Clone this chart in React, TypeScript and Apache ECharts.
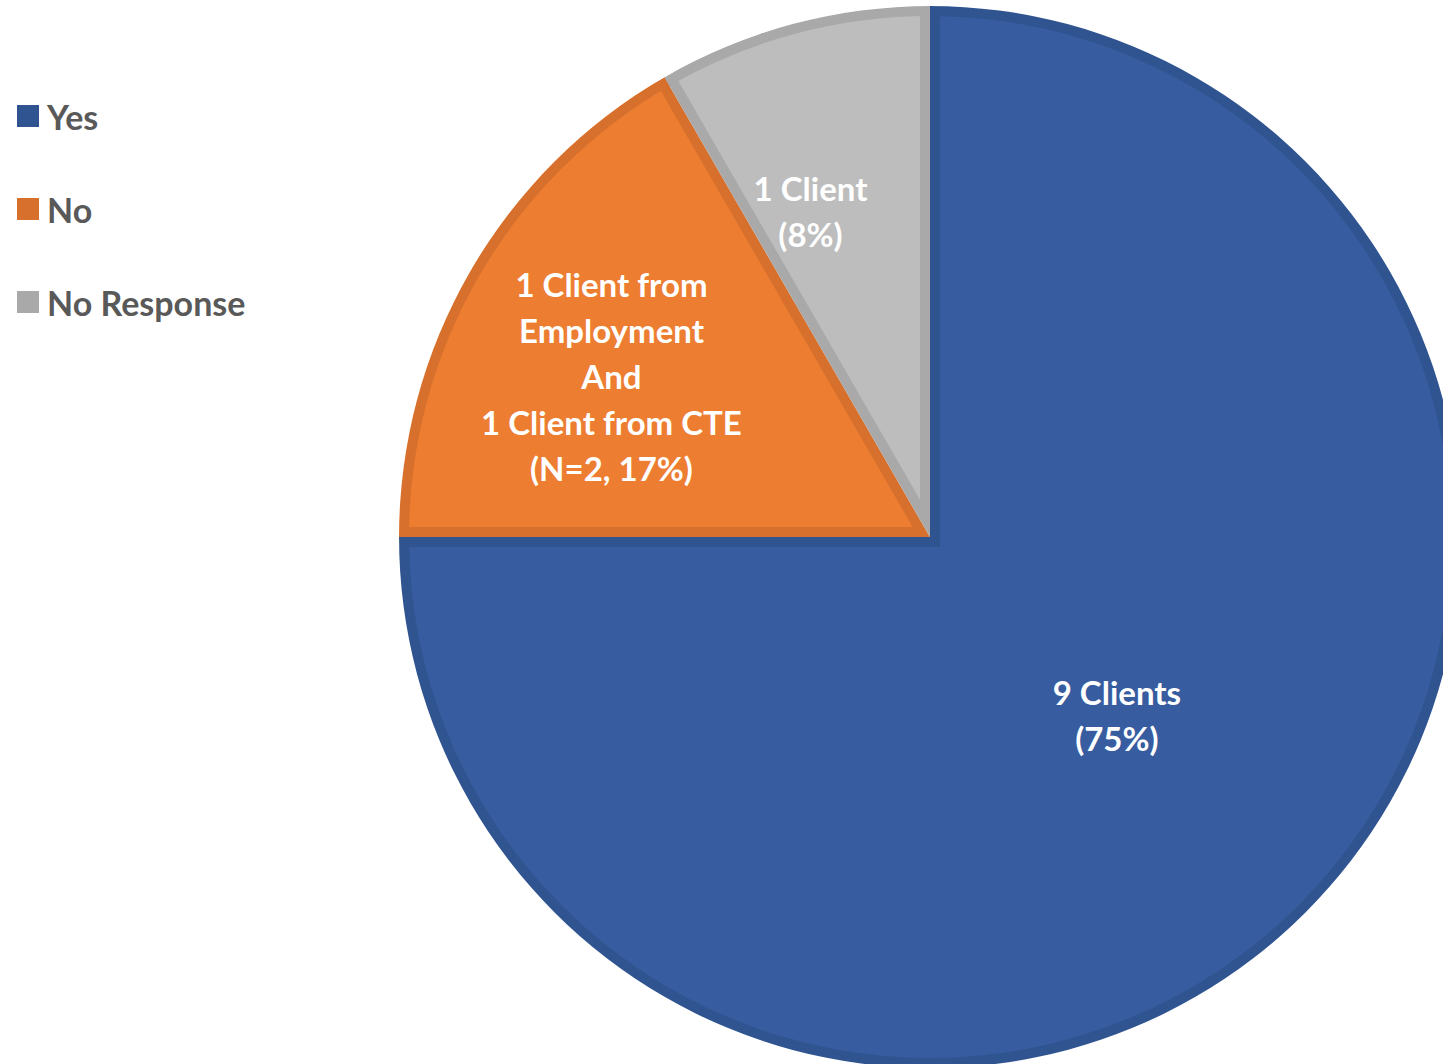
import React, { useEffect, useRef } from "react";
import * as echarts from "echarts";

const categories = ["Yes", "No", "No Response"];
const values = [9, 2, 1];
const labelTexts = [
  "9 Clients\n(75%)",
  "1 Client from\nEmployment\nAnd\n1 Client from CTE\n(N=2, 17%)",
  "1 Client\n(8%)",
];

const fills = ["#375CA0", "#ED7D31", "#BDBDBD"];
const borders = ["#30548F", "#D6702C", "#A9A9A9"];
const labelShift = [
  [-3, -12],
  [-86, -27],
  [-50, -67],
];

const CX = 930;
const CY = 537;
const R = 531;
const BORDER = 10;
const FONT = "Lato, 'Open Sans', 'Noto Sans', sans-serif";

export default function App() {
  const ref = useRef<HTMLDivElement>(null);
  useEffect(() => {
    document.body.style.margin = "0";
    if (!ref.current) return;
    const chart = echarts.init(ref.current, undefined, { renderer: "svg" });
    const total = values.reduce((a, b) => a + b, 0);
    const common = {
      type: "pie",
      silent: true,
      clockwise: true,
      label: { show: false },
      labelLine: { show: false },
      emphasis: { disabled: true },
      itemStyle: { borderWidth: 0 },
    };
    let cum = 0;
    const wedges = values.map((v, i) => {
      const start = 90 - (360 * cum) / total;
      const sweep = (360 * v) / total;
      cum += v;
      const bis = ((start - sweep / 2) * Math.PI) / 180;
      const k = BORDER / Math.sin(((sweep / 2) * Math.PI) / 180);
      return {
        ...common,
        z: 2,
        center: [CX + k * Math.cos(bis), CY - k * Math.sin(bis)],
        radius: R + 45,
        startAngle: ((start % 360) + 360) % 360,
        data: [
          { name: categories[i], value: v, itemStyle: { color: fills[i] } },
          { name: "__rest" + i, value: total - v, itemStyle: { color: "rgba(0,0,0,0)" } },
        ],
      };
    });
    const option = {
      animation: false,
      backgroundColor: "#ffffff",
      legend: {
        orient: "vertical",
        left: 12,
        top: 94,
        z: 10,
        icon: "rect",
        itemWidth: 22,
        itemHeight: 22,
        itemGap: 59,
        selectedMode: false,
        data: categories.map((c, i) => ({ name: c, itemStyle: { color: borders[i] } })),
        textStyle: {
          fontFamily: FONT,
          fontWeight: "bold",
          fontSize: 34,
          lineHeight: 33,
          color: "#595959",
          padding: [0, 0, 0, 3],
        },
      },
      series: [
        {
          ...common,
          z: 1,
          center: [CX, CY],
          radius: R,
          startAngle: 90,
          data: categories.map((c, i) => ({ name: c, value: values[i], itemStyle: { color: borders[i] } })),
        },
        ...wedges,
        {
          ...common,
          z: 3,
          center: [CX, CY],
          radius: [R - BORDER, R],
          startAngle: 90,
          data: categories.map((c, i) => ({ name: c, value: values[i], itemStyle: { color: borders[i] } })),
        },
        {
          ...common,
          z: 4,
          center: [CX, CY],
          radius: [R, 2200],
          data: [{ name: "__mask", value: 1, itemStyle: { color: "#ffffff" } }],
        },
        {
          ...common,
          z: 5,
          center: [CX, CY],
          radius: R,
          startAngle: 90,
          label: {
            show: true,
            position: "inside",
            color: "#ffffff",
            fontFamily: FONT,
            fontWeight: "bold",
            fontSize: 33,
            lineHeight: 46,
            align: "center",
            formatter: (p: any) => labelTexts[p.dataIndex],
          },
          labelLayout: (p: any) => ({ dx: labelShift[p.dataIndex][0], dy: labelShift[p.dataIndex][1] }),
          data: categories.map((c, i) => ({ name: c, value: values[i], itemStyle: { color: "rgba(0,0,0,0)" } })),
        },
      ],
    };
    chart.setOption(option as any);
    return () => chart.dispose();
  }, []);
  return <div ref={ref} style={{ width: 1443, height: 1064 }} />;
}
